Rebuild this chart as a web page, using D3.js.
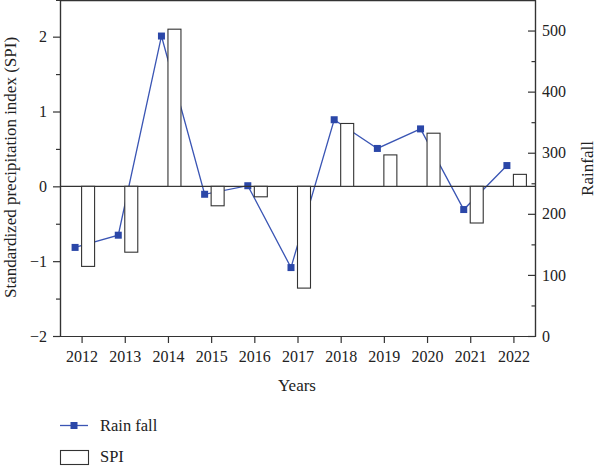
<!DOCTYPE html>
<html>
<head>
<meta charset="utf-8">
<script src="https://cdn.jsdelivr.net/npm/d3@7"></script>
<style>
  body { margin: 0; background: #fff; }
  svg { display: block; }
  text { font-family: "Liberation Serif", "DejaVu Serif", serif; fill: #222; }
</style>
</head>
<body>
<svg id="chart" width="600" height="468"></svg>
<script>
// data
const years = [2012, 2013, 2014, 2015, 2016, 2017, 2018, 2019, 2020, 2021, 2022];
const spi = [-1.07, -0.88, 2.10, -0.26, -0.14, -1.36, 0.84, 0.42, 0.71, -0.49, 0.16];
const rainfall = [145, 165, 491, 232, 246, 112, 354, 307, 339, 207, 279];
const spiTicks = [-2, -1, 0, 1, 2];
const spiMinor = [-1.5, -0.5, 0.5, 1.5];
const rainTicks = [0, 100, 200, 300, 400, 500];
const rainMinor = [50, 150, 250, 350, 450];

const svg = d3.select('#chart');
const plotLeft = 60, plotRight = 535, plotTop = 0, plotBottom = 336;
const barW = 13;
const axisColor = '#333';

const x = d3.scaleLinear().domain([2011.5, 2022.5]).range([plotLeft, plotRight]);
const yL = d3.scaleLinear().domain([-2, 2.49]).range([plotBottom, plotTop]);
const yR = d3.scaleLinear().domain([0, 550]).range([plotBottom, plotTop]);

// rainfall line (drawn first so bars sit on top of it)
const line = d3.line()
  .x((d, i) => x(years[i]) - 6.5)
  .y((d) => yR(d));

svg.append('path')
  .datum(rainfall)
  .attr('d', line)
  .attr('fill', 'none')
  .attr('stroke', '#3a55b4')
  .attr('stroke-width', 1.3);

svg.selectAll('.pt')
  .data(rainfall)
  .enter()
  .append('rect')
  .attr('class', 'pt')
  .attr('x', (d, i) => x(years[i]) - 6.5 - 3.5)
  .attr('y', (d) => yR(d) - 3.5)
  .attr('width', 7)
  .attr('height', 7)
  .attr('fill', '#2b47a8');

// zero line
svg.append('line')
  .attr('x1', plotLeft).attr('x2', plotRight)
  .attr('y1', yL(0)).attr('y2', yL(0))
  .attr('stroke', axisColor)
  .attr('stroke-width', 1.2);

// SPI bars
svg.selectAll('.bar')
  .data(spi)
  .enter()
  .append('rect')
  .attr('class', 'bar')
  .attr('x', (d, i) => x(years[i]))
  .attr('y', (d) => yL(Math.max(0, d)))
  .attr('width', barW)
  .attr('height', (d) => Math.abs(yL(d) - yL(0)))
  .attr('fill', '#fff')
  .attr('stroke', '#333')
  .attr('stroke-width', 1.1);

// top frame
svg.append('line')
  .attr('x1', plotLeft).attr('x2', plotRight)
  .attr('y1', plotTop + 0.6).attr('y2', plotTop + 0.6)
  .attr('stroke', axisColor)
  .attr('stroke-width', 1.2);

const styleAxis = (g) => {
  g.selectAll('path').attr('stroke', axisColor).attr('stroke-width', 1.2);
  g.selectAll('line').attr('stroke', axisColor).attr('stroke-width', 1.2);
  g.selectAll('text')
    .attr('font-family', '"Liberation Serif", "DejaVu Serif", serif')
    .attr('font-size', 16)
    .attr('fill', '#222');
};

// left axis
svg.append('g')
  .attr('transform', `translate(${plotLeft},0)`)
  .call(d3.axisLeft(yL).tickValues(spiMinor).tickSize(4).tickFormat(''))
  .call(styleAxis);
svg.append('g')
  .attr('transform', `translate(${plotLeft},0)`)
  .call(d3.axisLeft(yL).tickValues(spiTicks).tickSizeInner(7).tickSizeOuter(0)
    .tickPadding(6).tickFormat((d) => d < 0 ? '\u2212' + Math.abs(d) : d))
  .call(styleAxis);

// right axis, ticks pointing inward
svg.append('g')
  .attr('transform', `translate(${plotRight},0)`)
  .call(d3.axisRight(yR).tickValues(rainMinor).tickSize(-3.5).tickFormat(''))
  .call(styleAxis);
svg.append('g')
  .attr('transform', `translate(${plotRight},0)`)
  .call(d3.axisRight(yR).tickValues(rainTicks).tickSizeInner(-7).tickSizeOuter(0)
    .tickPadding(7))
  .call(styleAxis);

// bottom axis
svg.append('g')
  .attr('transform', `translate(0,${plotBottom})`)
  .call(d3.axisBottom(x).tickValues(years).tickSizeInner(7).tickSizeOuter(0)
    .tickPadding(8).tickFormat(d3.format('d')))
  .call(styleAxis);

// axis titles
svg.append('text')
  .attr('x', 297).attr('y', 391)
  .attr('text-anchor', 'middle')
  .attr('font-size', 17)
  .text('Years');

svg.append('text')
  .attr('transform', 'translate(16,167.5) rotate(-90)')
  .attr('text-anchor', 'middle')
  .attr('font-size', 17)
  .text('Standardized precipitation index (SPI)');

svg.append('text')
  .attr('transform', 'translate(593,168.5) rotate(-90)')
  .attr('text-anchor', 'middle')
  .attr('font-size', 17)
  .text('Rainfall');

// legend
const legend = svg.append('g');
legend.append('line')
  .attr('x1', 60).attr('x2', 88)
  .attr('y1', 425.5).attr('y2', 425.5)
  .attr('stroke', '#3a55b4')
  .attr('stroke-width', 1.3);
legend.append('rect')
  .attr('x', 70.5).attr('y', 422)
  .attr('width', 7).attr('height', 7)
  .attr('fill', '#2b47a8');
legend.append('text')
  .attr('x', 100).attr('y', 431)
  .attr('font-size', 16.5)
  .text('Rain fall');
legend.append('rect')
  .attr('x', 60.5).attr('y', 450.5)
  .attr('width', 28).attr('height', 14)
  .attr('fill', '#fff')
  .attr('stroke', '#333')
  .attr('stroke-width', 1.1);
legend.append('text')
  .attr('x', 100).attr('y', 462)
  .attr('font-size', 16.5)
  .text('SPI');
</script>
</body>
</html>
